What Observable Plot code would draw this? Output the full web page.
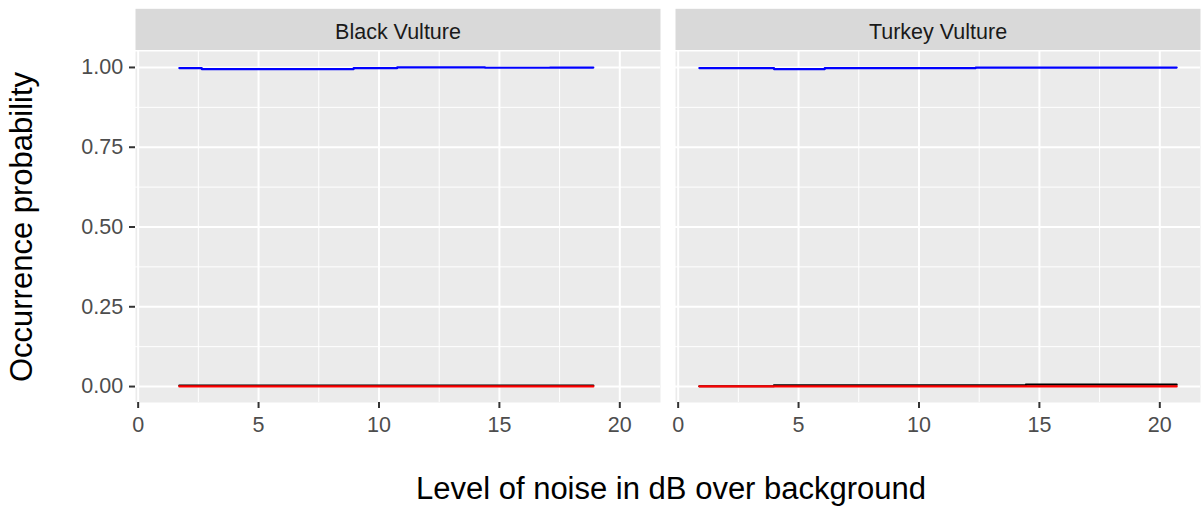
<!DOCTYPE html>
<html>
<head>
<meta charset="utf-8">
<script src="https://cdn.jsdelivr.net/npm/d3@7"></script>
<script src="https://cdn.jsdelivr.net/npm/@observablehq/plot@0.6"></script>
<style>
  html, body { margin: 0; padding: 0; background: #ffffff; }
  #chart { width: 1204px; height: 506px; }
</style>
</head>
<body>
<div id="chart"></div>
<script>
// Facet panels
const species = ["Black Vulture", "Turkey Vulture"];

// Axis ticks
const xTicks = [0, 5, 10, 15, 20];
const xMinor = [2.5, 7.5, 12.5, 17.5];
const yTicks = [0, 0.25, 0.5, 0.75, 1];
const yMinor = [0.125, 0.375, 0.625, 0.875];

// Predicted occurrence probability against noise level (dB over background)
// Black Vulture
const bvBlueNoise = [1.71, 2.64, 8.95, 10.76, 14.4, 17.1, 18.9];
const bvBlueProb  = [0.998, 0.995, 0.998, 1.000, 0.999, 0.9995, 0.9995];
const bvBlackNoise = [1.71, 18.9];
const bvBlackProb  = [0.003, 0.003];
const bvRedNoise = [1.71, 18.9];
const bvRedProb  = [0.0003, 0.0003];

// Turkey Vulture
const tvBlueNoise = [0.88, 3.98, 6.09, 12.36, 20.7];
const tvBlueProb  = [0.998, 0.995, 0.998, 0.9995, 0.9995];
const tvBlackNoise = [0.88, 3.98, 14.44, 20.7];
const tvBlackProb  = [0.001, 0.004, 0.006, 0.006];
const tvRedNoise = [0.88, 20.7];
const tvRedProb  = [0.0003, 0.0003];

// Long-format rows for the line marks
function rows(sp, series, xs, ys) {
  return xs.map((x, i) => ({species: sp, series, noise: x, p: ys[i]}));
}
const data = [
  ...rows("Black Vulture", "blue", bvBlueNoise, bvBlueProb),
  ...rows("Black Vulture", "black", bvBlackNoise, bvBlackProb),
  ...rows("Black Vulture", "red", bvRedNoise, bvRedProb),
  ...rows("Turkey Vulture", "blue", tvBlueNoise, tvBlueProb),
  ...rows("Turkey Vulture", "black", tvBlackNoise, tvBlackProb),
  ...rows("Turkey Vulture", "red", tvRedNoise, tvRedProb)
];

const seriesColor = {blue: "#0000FF", black: "#000000", red: "#FF0000"};
const font = "'Liberation Sans', Arial, Helvetica, sans-serif";

const lineFor = (s) => Plot.line(data.filter(d => d.series === s), {
  x: "noise", y: "p", fx: "species", z: "species",
  stroke: seriesColor[s], strokeWidth: 2.2, curve: "step-after"
});

const chart = Plot.plot({
  width: 1204,
  height: 506,
  marginTop: 51,
  marginBottom: 104,
  marginLeft: 134,
  marginRight: 4,
  style: {fontFamily: font, background: "#ffffff", overflow: "visible"},
  fx: {domain: species, paddingInner: 0.0278, paddingOuter: 0, axis: null, label: null},
  x: {domain: [-0.11, 21.69], axis: null},
  y: {domain: [-0.05, 1.05], axis: null},
  marks: [
    // panel background
    Plot.frame({fill: "#EBEBEB", stroke: null}),
    // strip background above each panel
    Plot.frame({fill: "#D9D9D9", stroke: null, insetTop: -42.7, insetBottom: 352.5}),
    // grid
    Plot.gridX(xMinor, {stroke: "#ffffff", strokeOpacity: 1, strokeWidth: 1}),
    Plot.gridY(yMinor, {stroke: "#ffffff", strokeOpacity: 1, strokeWidth: 1}),
    Plot.gridX(xTicks, {stroke: "#ffffff", strokeOpacity: 1, strokeWidth: 2}),
    Plot.gridY(yTicks, {stroke: "#ffffff", strokeOpacity: 1, strokeWidth: 2}),
    // strip labels
    Plot.text(species, {
      fx: d => d, text: d => d, frameAnchor: "top", lineAnchor: "middle",
      textAnchor: "middle", dy: -19.5, fontSize: 21.5, fill: "#1A1A1A"
    }),
    // axes
    Plot.axisY(yTicks, {
      tickFormat: d3.format(".2f"), tickSize: 6, tickPadding: 6.3,
      stroke: "#333333", strokeWidth: 2, fill: "#4D4D4D", fontSize: 21.5, label: null
    }),
    Plot.axisX(xTicks, {
      tickSize: 6, tickPadding: 8.5,
      stroke: "#333333", strokeWidth: 2, fill: "#4D4D4D", fontSize: 21.5, label: null
    }),
    // fitted probability lines
    lineFor("blue"),
    lineFor("black"),
    lineFor("red"),
    // axis titles
    Plot.text(["Level of noise in dB over background"], {
      facet: "super", frameAnchor: "bottom", lineAnchor: "middle", textAnchor: "middle",
      dy: 87, dx: 3, fontSize: 31, fill: "#000000", text: d => d
    }),
    Plot.text(["Occurrence probability"], {
      facet: "super", frameAnchor: "left", lineAnchor: "middle", textAnchor: "middle",
      rotate: -90, dx: -113, fontSize: 31, fill: "#000000", text: d => d
    })
  ]
});

document.getElementById("chart").appendChild(chart);
</script>
</body>
</html>
